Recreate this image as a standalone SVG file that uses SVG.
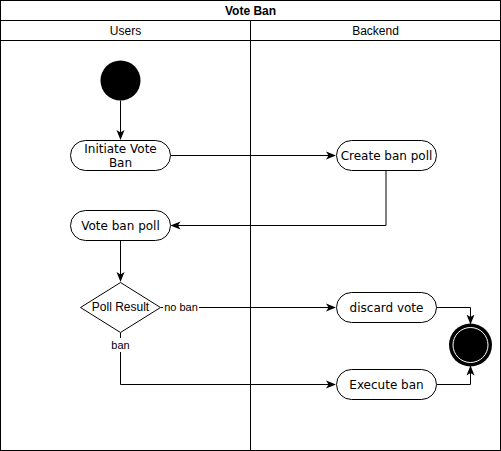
<svg xmlns="http://www.w3.org/2000/svg" width="501" height="451" viewBox="0 0 501 451">
<defs>
<marker id="arr" viewBox="0 0 10 10" refX="9" refY="5" markerWidth="10" markerHeight="10" markerUnits="userSpaceOnUse" orient="auto">
<path d="M0,1 L10,5 L0,9 L2.5,5 Z" fill="#000"/>
</marker>
</defs>
<style>
.lane{fill:none;stroke:#000;stroke-width:1}
.node{fill:#fff;stroke:#000;stroke-width:1}
.t{font-family:"DejaVu Sans",Verdana,sans-serif;font-size:12px;fill:#000;text-anchor:middle;dominant-baseline:central}
.a{font-family:"Liberation Sans",Arial,sans-serif;font-size:12px;fill:#000;text-anchor:middle;dominant-baseline:central}
.lbl{font-family:"Liberation Sans",Arial,sans-serif;font-size:11px;fill:#000;text-anchor:middle;dominant-baseline:central}
.e{fill:none;stroke:#000;stroke-width:1}
</style>
<rect width="501" height="451" fill="#fff"/>
<g id="pool">
<rect class="lane" x="0.5" y="0.5" width="500" height="450"/>
<line class="lane" x1="0.5" y1="20.5" x2="500.5" y2="20.5"/>
<line class="lane" x1="0.5" y1="40.5" x2="500.5" y2="40.5"/>
<line class="lane" x1="250.5" y1="20.5" x2="250.5" y2="450.5"/>
<text class="a" x="250.5" y="10.5" font-weight="bold">Vote Ban</text>
<text class="a" x="125.5" y="30.5">Users</text>
<text class="a" x="375.5" y="30.5">Backend</text>
</g>
<g id="edges">
<path class="e" d="M120.5,100.5 V139" marker-end="url(#arr)"/>
<path class="e" d="M170.5,155.5 H335" marker-end="url(#arr)"/>
<path class="e" d="M386,170.5 V225.5 H171.5" marker-end="url(#arr)"/>
<path class="e" d="M120.5,240.5 V281" marker-end="url(#arr)"/>
<path class="e" d="M161,307.5 H335" marker-end="url(#arr)"/>
<path class="e" d="M120.5,332.5 V384.5 H335" marker-end="url(#arr)"/>
<path class="e" d="M436.5,307.5 H470.5 V323.5" marker-end="url(#arr)"/>
<path class="e" d="M436.5,384.5 H470.5 V366.5" marker-end="url(#arr)"/>
<rect x="163" y="300" width="36" height="14" fill="#fff"/>
<text class="lbl" x="181" y="307">no ban</text>
<rect x="109" y="338" width="22" height="14" fill="#fff"/>
<text class="lbl" x="120.5" y="345">ban</text>
</g>
<g id="start">
<circle cx="120.5" cy="80.5" r="20" fill="#000"/>
</g>
<g id="initiate">
<rect class="node" x="70.5" y="140.5" width="100" height="30" rx="15"/>
<text class="t" x="120.5" y="148.5">Initiate Vote</text>
<text class="t" x="120.5" y="162.5">Ban</text>
</g>
<g id="create">
<rect class="node" x="336.5" y="140.5" width="100" height="30" rx="15"/>
<text class="t" x="386.5" y="155.5">Create ban poll</text>
</g>
<g id="voteban">
<rect class="node" x="70.5" y="210.5" width="100" height="30" rx="15"/>
<text class="t" x="120.5" y="225.5">Vote ban poll</text>
</g>
<g id="decision">
<path class="node" d="M120.5,282.5 L160.5,307.5 L120.5,332.5 L80.5,307.5 Z"/>
<text class="a" x="120.5" y="306.5">Poll Result</text>
</g>
<g id="discard">
<rect class="node" x="336.5" y="292.5" width="100" height="30" rx="15"/>
<text class="t" x="386.5" y="307.5">discard vote</text>
</g>
<g id="execute">
<rect class="node" x="336.5" y="369.5" width="100" height="30" rx="15"/>
<text class="t" x="386.5" y="384.5">Execute ban</text>
</g>
<g id="end">
<circle cx="470.5" cy="345" r="21.5" fill="#000"/>
<circle cx="470.5" cy="345" r="17.5" fill="#000" stroke="#fff" stroke-width="1"/>
</g>
</svg>
